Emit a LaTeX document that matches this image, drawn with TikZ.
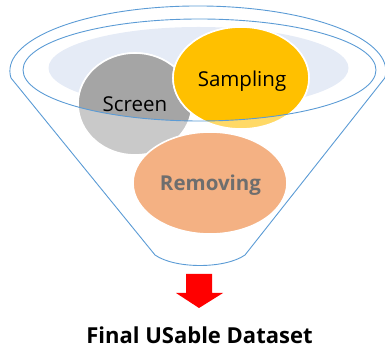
\documentclass[tikz,border=0pt]{standalone}
\usepackage{fontspec}
\setmainfont{Open Sans}
\definecolor{funnelblue}{HTML}{5B9BD5}
\definecolor{rimfill}{HTML}{E5EBF6}
\definecolor{screendark}{HTML}{A5A5A5}
\definecolor{screenlight}{HTML}{C9C9C9}
\definecolor{sampdark}{HTML}{FFC000}
\definecolor{samplight}{HTML}{FFD966}
\definecolor{remfill}{HTML}{F4B183}
\definecolor{remtext}{HTML}{6E6E6E}
\begin{document}
\begin{tikzpicture}[x=1pt,y=1pt,
  bubbleedge/.style={draw=white,line width=1.6pt},
  funnelline/.style={draw=funnelblue,line width=0.9pt},
  label/.style={inner sep=0pt,anchor=base,font=\fontsize{20.5}{20.5}\selectfont},
  boldlabel/.style={inner sep=0pt,anchor=base,font=\bfseries\fontsize{20.5}{20.5}\selectfont}]
\useasboundingbox (0,0) rectangle (385,350);
% rim fill
\fill[rimfill] (198.5,282) ellipse [x radius=150, y radius=41];
% Screen
\path[fill=screenlight,bubbleedge] (135,246) ellipse [x radius=57, y radius=51];
\begin{scope}
  \clip (199.5,280) ellipse [x radius=176.5, y radius=51];
  \path[fill=screendark,bubbleedge] (135,246) ellipse [x radius=57, y radius=51];
\end{scope}
% Sampling
\path[fill=samplight,bubbleedge] (241,272) ellipse [x radius=68, y radius=51];
\begin{scope}
  \clip (199.5,280) ellipse [x radius=176.5, y radius=51];
  \path[fill=sampdark,bubbleedge] (241,272) ellipse [x radius=68, y radius=51];
\end{scope}
% Removing
\path[fill=remfill,bubbleedge] (210,167) ellipse [x radius=77, y radius=51];
% funnel
\path[funnelline] (199.5,280) ellipse [x radius=176.5, y radius=51];
\coordinate (lefttop) at (11,272);
\coordinate (rightbot) at (245,95);
\coordinate (leftbot) at (155,95);
\path[funnelline] (lefttop) arc[start angle=186.2, end angle=-6.2, x radius=188, y radius=65]
  -- (rightbot) .. controls (225,81) and (175,81) .. (leftbot) -- cycle;
% labels
\node[label] (screen) at (135,238) {Screen};
\node[label] (sampling) at (242,263) {Sampling};
\node[boldlabel,text=remtext] (removing) at (210.5,159) {Removing};
% arrow
\fill[red] (186,76) -- (212,76) -- (212,57) -- (223,57) -- (199,42) -- (176,57) -- (186,57) -- cycle;
\node[boldlabel,font=\bfseries\fontsize{22}{22}\selectfont] (final) at (199.5,6) {Final USable Dataset};
\end{tikzpicture}
\end{document}
